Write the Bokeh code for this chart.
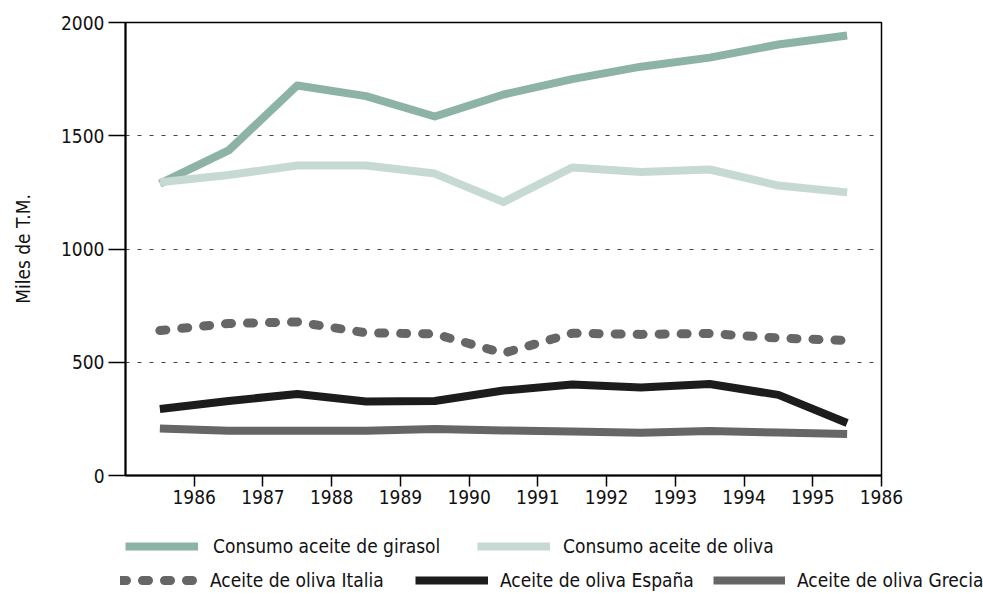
from bokeh.plotting import figure
from bokeh.models import FixedTicker, Legend, LegendItem
from bokeh.embed import file_html
from bokeh.resources import INLINE

years = [1985, 1986, 1987, 1988, 1989, 1990, 1991, 1992, 1993, 1994, 1995]
x_ticks = [1986, 1987, 1988, 1989, 1990, 1991, 1992, 1993, 1994, 1995, 1996]
x_tick_labels = ["1986", "1987", "1988", "1989", "1990", "1991", "1992", "1993", "1994", "1995", "1986"]
y_ticks = [0, 500, 1000, 1500, 2000]

girasol = [1289, 1435, 1722, 1675, 1585, 1682, 1750, 1805, 1845, 1903, 1943]
oliva = [1295, 1327, 1369, 1369, 1333, 1207, 1360, 1340, 1351, 1280, 1250]
italia = [640, 671, 678, 630, 625, 540, 628, 623, 627, 607, 596]
espana = [294, 329, 360, 327, 329, 375, 402, 388, 404, 356, 232]
grecia = [208, 198, 198, 198, 205, 199, 194, 189, 196, 190, 183]

labels = ["Consumo aceite de girasol", "Consumo aceite de oliva",
          "Aceite de oliva Italia", "Aceite de oliva España", "Aceite de oliva Grecia"]

FONT = "'Liberation Sans Narrow', 'DejaVu Sans Condensed', 'Roboto Condensed', Roboto"
FS = "19px"

styles = [
    dict(line_color="#8cb3a6", line_width=8, line_join="round"),
    dict(line_color="#c6d9d2", line_width=8, line_join="round"),
    dict(line_color="#666666", line_width=9, line_dash="6 16", line_cap="round", line_join="round"),
    dict(line_color="#1c1c1c", line_width=8, line_join="round"),
    dict(line_color="#666666", line_width=8, line_join="round"),
]
series = [girasol, oliva, italia, espana, grecia]
xs = [y + 0.5 for y in years]

p = figure(width=983, height=515, output_backend="svg", toolbar_location=None,
           x_range=(1985, 1996), y_range=(0, 2000),
           min_border_left=125, min_border_right=102, min_border_top=22, min_border_bottom=40)

for s, st in zip(series, styles):
    p.line(xs, s, **st)

p.outline_line_color = "black"
p.outline_line_width = 1.5

p.xgrid.visible = False
p.ygrid.ticker = FixedTicker(ticks=[500, 1000, 1500])
p.ygrid.grid_line_color = "#444444"
p.ygrid.grid_line_dash = "4 8"
p.ygrid.grid_line_width = 1

p.xaxis.ticker = FixedTicker(ticks=x_ticks)
p.xaxis.major_label_overrides = {t: l for t, l in zip(x_ticks, x_tick_labels)}
p.yaxis.ticker = FixedTicker(ticks=y_ticks)

for ax in (p.xaxis[0], p.yaxis[0]):
    ax.axis_line_color = "black"
    ax.axis_line_width = 2
    ax.major_tick_line_color = "black"
    ax.major_tick_line_width = 1.5
    ax.major_tick_in = 0
    ax.minor_tick_line_color = None
    ax.major_label_text_font = FONT
    ax.major_label_text_font_size = FS
    ax.major_label_text_color = "#111111"

p.xaxis.major_tick_out = 11
p.xaxis.major_label_standoff = 3
p.yaxis.major_tick_out = 17
p.yaxis.major_label_standoff = 4
p.yaxis.axis_label = "Miles de T.M."
p.yaxis.axis_label_text_font = FONT
p.yaxis.axis_label_text_font_size = FS
p.yaxis.axis_label_text_font_style = "normal"
p.yaxis.axis_label_text_color = "#111111"
p.yaxis.axis_label_standoff = 24

# legend strip below the chart (separate root, same series kept out of its view)
q = figure(width=983, height=78, output_backend="svg", toolbar_location=None,
           x_range=(1985, 1996), y_range=(5000, 6000), x_axis_type=None, y_axis_type=None,
           min_border=0, outline_line_color=None)
q.grid.visible = False
legend_renderers = [q.line(xs, s, **st) for s, st in zip(series, styles)]

# (label index, x px, y px from bottom, glyph width, standoff)
entries = [
    (0, 125, 36, 73, 15),
    (1, 477, 36, 73, 13),
    (2, 120, 2, 78, 12),
    (3, 415, 2, 73, 12),
    (4, 713, 2, 72, 12),
]
for i, lx, ly, gw, stf in entries:
    leg = Legend(items=[LegendItem(label=labels[i], renderers=[legend_renderers[i]])],
                 location=(lx, ly), orientation="horizontal", padding=0, margin=0, spacing=0,
                 glyph_width=gw, glyph_height=20, label_height=20, label_standoff=stf,
                 label_text_font=FONT, label_text_font_size=FS, label_text_color="#111111",
                 background_fill_alpha=0, border_line_alpha=0)
    q.add_layout(leg, "center")

open("out.html", "w").write(file_html([p, q], INLINE))
